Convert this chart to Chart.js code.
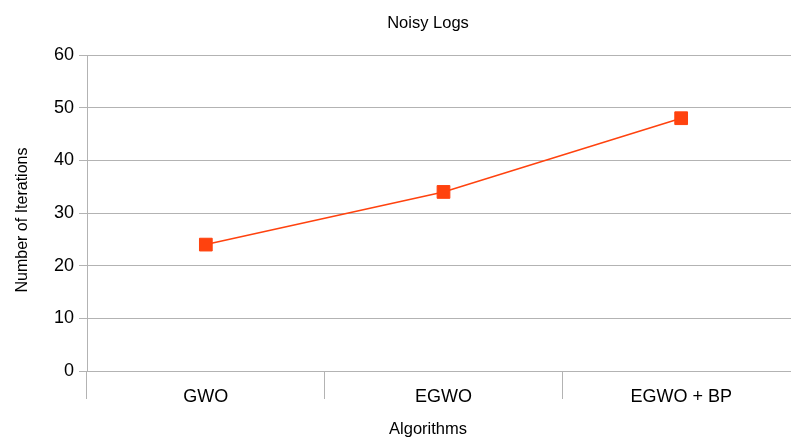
<!DOCTYPE html>
<html>
<head>
<meta charset="utf-8">
<script src="https://cdn.jsdelivr.net/npm/chart.js@4/dist/chart.umd.min.js"></script>
<style>
  html, body { margin: 0; padding: 0; background: #fff; overflow: hidden; }
  #wrap { width: 810px; height: 440px; }
</style>
</head>
<body>
<div id="wrap"><canvas id="c" width="810" height="440"></canvas></div>
<script>
// Chart content
const chartTitle = 'Noisy Logs';
const xAxisTitle = 'Algorithms';
const yAxisTitle = 'Number of Iterations';
const algorithms = ['GWO', 'EGWO', 'EGWO + BP'];
const iterations = [24, 34, 48];
const yTicks = [0, 10, 20, 30, 40, 50, 60];

const FONT = '"Liberation Sans", Arial, sans-serif';
const GRID = '#b3b3b3';
const LINE = '#ff420e';

// Draws the chart title and both axis titles as plain canvas text
const titlesPlugin = {
  id: 'titles',
  afterDraw(chart) {
    const ctx = chart.ctx;
    ctx.save();
    ctx.fillStyle = '#000';
    ctx.textAlign = 'center';
    ctx.textBaseline = 'middle';
    ctx.font = '16.5px ' + FONT;
    ctx.fillText(chartTitle, 428, 23);
    ctx.fillText(xAxisTitle, 428, 429);
    ctx.font = '16px ' + FONT;
    ctx.translate(23, 220);
    ctx.rotate(-Math.PI / 2);
    ctx.fillText(yAxisTitle, 0, 0);
    ctx.restore();
  }
};

new Chart(document.getElementById('c'), {
  type: 'line',
  data: {
    labels: algorithms,
    datasets: [{
      label: yAxisTitle,
      data: iterations,
      borderColor: LINE,
      backgroundColor: LINE,
      borderWidth: 1.5,
      pointStyle: 'rect',
      pointRadius: 9,
      pointBorderWidth: 1,
      pointBackgroundColor: LINE,
      pointBorderColor: LINE,
      tension: 0
    }]
  },
  options: {
    responsive: false,
    animation: false,
    layout: { padding: { top: 55, right: 9, left: 0, bottom: 0 } },
    plugins: {
      legend: { display: false },
      title: { display: false },
      tooltip: { enabled: false }
    },
    scales: {
      x: {
        type: 'category',
        offset: true,
        grid: {
          offset: true,
          drawOnChartArea: false,
          color: GRID,
          tickLength: 28,
          lineWidth: 1
        },
        border: { color: GRID, width: 1 },
        ticks: {
          color: '#000',
          font: { family: FONT, size: 18 },
          padding: -13,
          maxRotation: 0
        },
        afterFit(scale) { scale.height = 69; }
      },
      y: {
        min: 0,
        max: 60,
        afterBuildTicks(scale) { scale.ticks = yTicks.map(v => ({ value: v })); },
        grid: { color: GRID, tickLength: 8, lineWidth: 1 },
        border: { color: GRID, width: 1 },
        ticks: {
          color: '#000',
          font: { family: FONT, size: 18 },
          padding: 5
        },
        afterFit(scale) { scale.width = 87; }
      }
    }
  },
  plugins: [titlesPlugin]
});
</script>
</body>
</html>
